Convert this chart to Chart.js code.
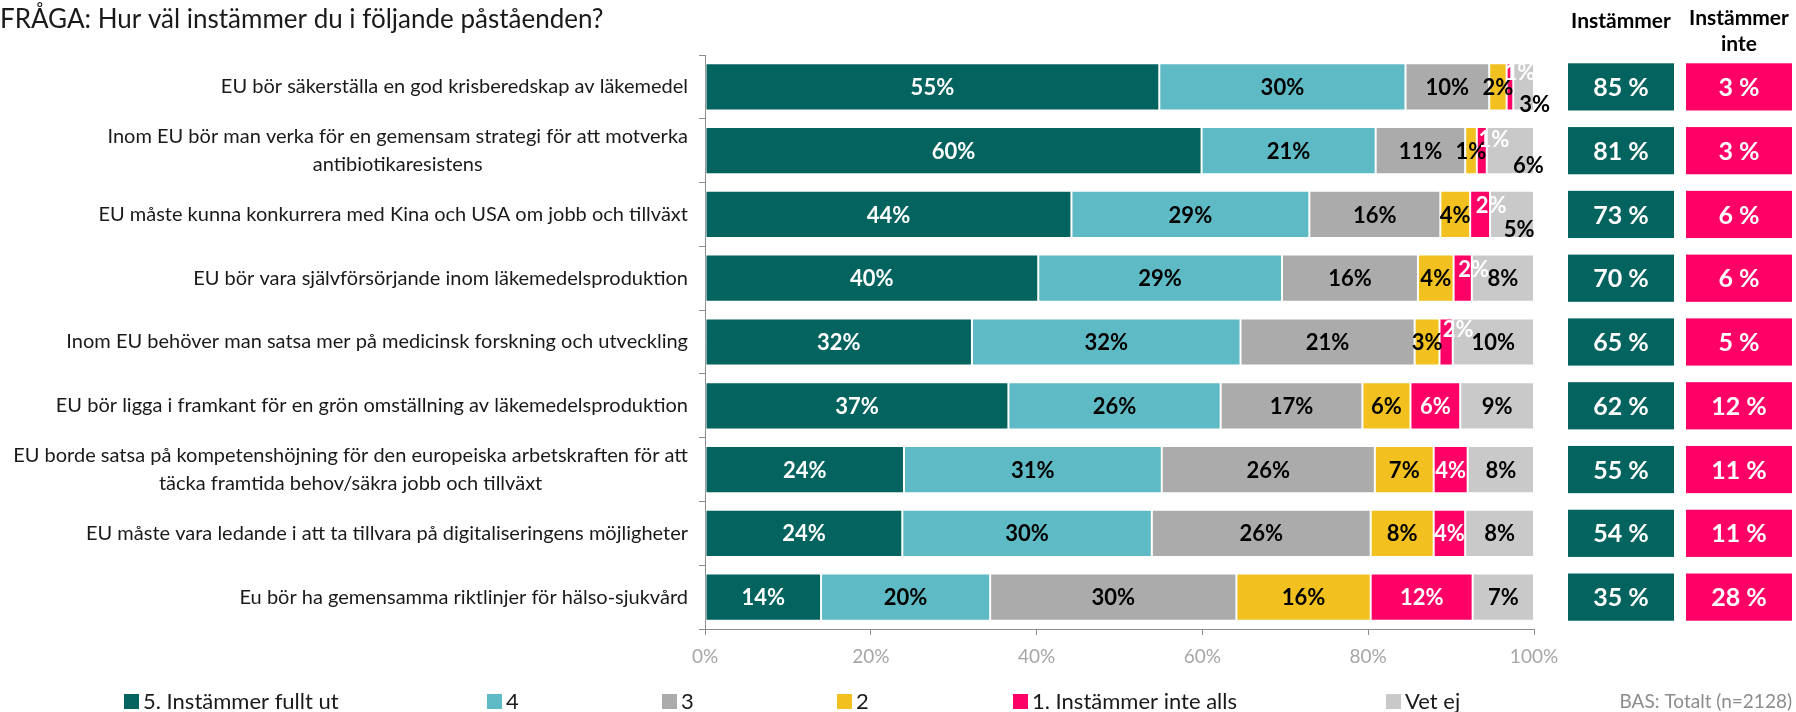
<!DOCTYPE html>
<html>
<head>
<meta charset="utf-8">
<script src="https://cdn.jsdelivr.net/npm/chart.js@4.4.1/dist/chart.umd.min.js"></script>
<style>
  body { margin: 0; background: #fff; }
  #wrap { position: relative; width: 1796px; height: 712px; }
</style>
</head>
<body>
<div id="wrap"><canvas id="chart"></canvas></div>
<script>
const categories = [
    'EU bör säkerställa en god krisberedskap av läkemedel',
    ['Inom EU bör man verka för en gemensam strategi för att motverka', 'antibiotikaresistens'],
    'EU måste kunna konkurrera med Kina och USA om jobb och tillväxt',
    'EU bör vara självförsörjande inom läkemedelsproduktion',
    'Inom EU behöver man satsa mer på medicinsk forskning och utveckling',
    'EU bör ligga i framkant för en grön omställning av läkemedelsproduktion',
    ['EU borde satsa på kompetenshöjning för den europeiska arbetskraften för att', 'täcka framtida behov/säkra jobb och tillväxt'],
    'EU måste vara ledande i att ta tillvara på digitaliseringens möjligheter',
    'Eu bör ha gemensamma riktlinjer för hälso-sjukvård'
];

const fullyAgree    = [54.8, 59.9, 44.2, 40.2, 32.2, 36.6, 24.0, 23.8, 14.0];
const agree         = [29.7, 21.0, 28.7, 29.4, 32.4, 25.6, 31.1, 30.1, 20.4];
const neutral       = [10.1, 10.8, 15.8, 16.4, 21.0, 17.1, 25.7, 26.4, 29.7];
const disagree      = [2.1, 1.4, 3.6, 4.3, 3.0, 5.8, 7.1, 7.6, 16.2];
const fullyDisagree = [0.8, 1.2, 2.4, 2.2, 1.6, 6.0, 4.1, 3.8, 12.3];
const dontKnow      = [2.5, 5.7, 5.3, 7.5, 9.8, 8.9, 8.0, 8.3, 7.4];

const agreeTotal    = [85, 81, 73, 70, 65, 62, 55, 54, 35];
const disagreeTotal = [3, 3, 6, 6, 5, 12, 11, 11, 28];

const seriesNames = ['5. Instämmer fullt ut', '4', '3', '2', '1. Instämmer inte alls', 'Vet ej'];
const xTicks = [0, 20, 40, 60, 80, 100];

const colors = ['#03635f', '#5ebac5', '#ababab', '#f2c11f', '#ff0066', '#c9c9c9'];
const labelColors = ['#ffffff', '#000000', '#000000', '#000000', '#ffffff', '#000000'];

// small segments where the label sits off-centre (row-dataset: [dx, dy])
const labelNudge = {
    '0-4': [10, -15], '0-5': [11, 17],
    '1-4': [12, -12], '1-5': [18, 14],
    '2-4': [11, -10], '2-5': [7, 14],
    '3-4': [11, -9],
    '4-4': [12, -13]
};

const legendX = [124, 487, 662, 837, 1013, 1386];
const FONT = 'Lato, "Open Sans", sans-serif';

const segmentLabels = {
    id: 'segmentLabels',
    afterDatasetsDraw(chart) {
        const ctx = chart.ctx;
        ctx.save();
        ctx.font = 'bold 22px ' + FONT;
        ctx.textAlign = 'center';
        ctx.textBaseline = 'middle';
        chart.data.datasets.forEach((ds, d) => {
            chart.getDatasetMeta(d).data.forEach((bar, i) => {
                const nudge = labelNudge[i + '-' + d] || [0, 0];
                ctx.fillStyle = labelColors[d];
                ctx.fillText(Math.round(ds.data[i]) + '%', (bar.x + bar.base) / 2 + nudge[0], bar.y + 1 + nudge[1]);
            });
        });
        ctx.restore();
    }
};

const extras = {
    id: 'extras',
    afterDraw(chart) {
        const ctx = chart.ctx;
        const yScale = chart.scales.y;
        const bars = chart.getDatasetMeta(0).data;
        ctx.save();

        // title
        ctx.fillStyle = '#1a1a1a';
        ctx.font = '26px ' + FONT;
        ctx.textAlign = 'left';
        ctx.textBaseline = 'middle';
        ctx.fillText('FRÅGA: Hur väl instämmer du i följande påståenden?', 0, 20);

        // category labels, lines centred on each other, block right-aligned
        ctx.font = '20px ' + FONT;
        ctx.textAlign = 'center';
        categories.forEach((label, i) => {
            const lines = Array.isArray(label) ? label : [label];
            const maxW = Math.max(...lines.map(l => ctx.measureText(l).width));
            const cx = 688 - maxW / 2;
            const yc = yScale.getPixelForValue(i);
            lines.forEach((line, k) => {
                ctx.fillText(line, cx, yc + (k - (lines.length - 1) / 2) * 28);
            });
        });

        // summary columns
        ctx.fillStyle = '#000';
        ctx.font = 'bold 21px ' + FONT;
        ctx.fillText('Instämmer', 1621, 21);
        ctx.fillText('Instämmer', 1739, 18);
        ctx.fillText('inte', 1739, 44);

        bars.forEach((bar, i) => {
            const top = bar.y - bar.height / 2;
            ctx.fillStyle = colors[0];
            ctx.fillRect(1568, top, 106, bar.height);
            ctx.fillStyle = colors[4];
            ctx.fillRect(1686, top, 106, bar.height);
            ctx.fillStyle = '#ffffff';
            ctx.font = 'bold 25px ' + FONT;
            ctx.fillText(agreeTotal[i] + ' %', 1621, bar.y + 1);
            ctx.fillText(disagreeTotal[i] + ' %', 1739, bar.y + 1);
        });

        // legend
        ctx.textAlign = 'left';
        ctx.font = '22px ' + FONT;
        seriesNames.forEach((name, d) => {
            ctx.fillStyle = colors[d];
            ctx.fillRect(legendX[d], 694, 15, 15);
            ctx.fillStyle = '#1a1a1a';
            ctx.fillText(name, legendX[d] + 19, 702);
        });
        ctx.fillStyle = '#8c8c8c';
        ctx.font = '19px ' + FONT;
        ctx.textAlign = 'right';
        ctx.fillText('BAS: Totalt (n=2128)', 1792, 702);

        ctx.restore();
    }
};

const ctx = document.getElementById('chart').getContext('2d');

const chart = new Chart(ctx, {
    type: 'bar',
    data: {
        labels: categories,
        datasets: [fullyAgree, agree, neutral, disagree, fullyDisagree, dontKnow].map((values, d) => ({
            label: seriesNames[d],
            data: values,
            backgroundColor: colors[d],
            borderColor: 'rgba(255,255,255,0.55)',
            borderWidth: 1,
            borderSkipped: false,
            barPercentage: 0.74,
            categoryPercentage: 1
        }))
    },
    options: {
        indexAxis: 'y',
        responsive: true,
        maintainAspectRatio: false,
        animation: false,
        layout: { padding: { top: 55, right: 262, bottom: 0, left: 0 } },
        plugins: {
            legend: { display: false },
            tooltip: { enabled: false }
        },
        scales: {
            x: {
                stacked: true,
                min: 0,
                max: 100,
                afterBuildTicks: (scale) => { scale.ticks = xTicks.map(v => ({ value: v })); },
                afterFit: (scale) => { scale.height = 83; },
                ticks: {
                    callback: (v) => v + '%',
                    color: '#a6a6a6',
                    font: { family: FONT, size: 19 },
                    padding: 10,
                    maxRotation: 0
                },
                grid: { drawOnChartArea: false, drawTicks: true, tickLength: 6, color: '#8c8c8c' },
                border: { color: '#8c8c8c' }
            },
            y: {
                stacked: true,
                afterFit: (scale) => { scale.width = 705; },
                ticks: { display: false },
                grid: { drawOnChartArea: false, drawTicks: true, tickLength: 6, color: '#8c8c8c', offset: true },
                border: { color: '#8c8c8c' }
            }
        }
    },
    plugins: [segmentLabels, extras]
});
</script>
</body>
</html>
